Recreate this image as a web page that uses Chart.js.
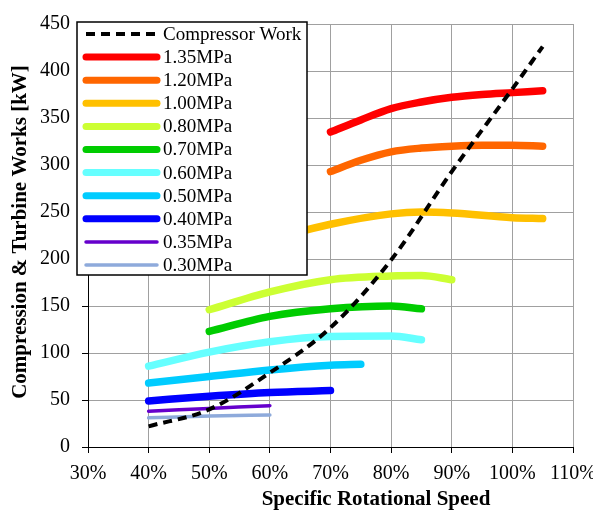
<!DOCTYPE html>
<html>
<head>
<meta charset="utf-8">
<title>Compression & Turbine Works</title>
<script src="https://cdn.jsdelivr.net/npm/chart.js@4/dist/chart.umd.min.js"></script>
<style>
  body { margin: 0; background: #fff; }
  #work-chart { display: block; }
</style>
</head>
<body>
<canvas id="work-chart" width="593" height="513"></canvas>
<script>
const serif = '"Liberation Serif", "Times New Roman", serif';

// compressor work curve
const compSpeed = [40, 50, 60, 70, 80, 90, 100, 105];
const compWork = [22, 40, 79, 127, 199, 293, 381, 426];

// turbine work, one curve per inlet pressure
const p135Speed = [70, 75, 80, 85, 90, 95, 100, 105];
const p135Work = [335, 348, 360, 367, 372, 375, 377, 379];
const p120Speed = [70, 75, 80, 85, 90, 95, 100, 105];
const p120Work = [293, 305, 314, 318, 320, 321, 321, 320];
const p100Speed = [50, 60, 70, 80, 85, 90, 100, 105];
const p100Work = [205, 221, 237, 248, 250, 249, 244, 243];
const p080Speed = [50, 60, 70, 80, 85, 90];
const p080Work = [146, 165, 178, 182, 182.5, 178];
const p070Speed = [50, 60, 70, 80, 85];
const p070Work = [123, 139, 147, 150, 147];
const p060Speed = [40, 50, 60, 70, 80, 85];
const p060Work = [86, 101, 112, 117.5, 118, 114];
const p050Speed = [40, 50, 60, 70, 75];
const p050Work = [68, 75, 82, 87, 88];
const p040Speed = [40, 50, 60, 70];
const p040Work = [49, 54, 58, 60];
const p035Speed = [40, 50, 60];
const p035Work = [38, 41, 44];
const p030Speed = [40, 50, 60];
const p030Work = [31, 33, 34];

const xTicks = [30, 40, 50, 60, 70, 80, 90, 100, 110];
const yTicks = [0, 50, 100, 150, 200, 250, 300, 350, 400, 450];

function toPoints(xs, ys) {
  return xs.map((x, i) => ({ x: x, y: ys[i] }));
}

function series(label, xs, ys, color, width) {
  return {
    label: label,
    data: toPoints(xs, ys),
    borderColor: color,
    backgroundColor: color,
    borderWidth: width,
    borderCapStyle: 'round',
    borderJoinStyle: 'round',
    pointRadius: 0,
    cubicInterpolationMode: 'monotone',
    fill: false
  };
}

const compressor = series('Compressor Work', compSpeed, compWork, '#000000', 4);
compressor.borderDash = [9, 6];
compressor.borderCapStyle = 'butt';

const datasets = [
  compressor,
  series('1.35MPa', p135Speed, p135Work, '#ff0000', 7.5),
  series('1.20MPa', p120Speed, p120Work, '#ff6600', 7.5),
  series('1.00MPa', p100Speed, p100Work, '#ffc000', 7.5),
  series('0.80MPa', p080Speed, p080Work, '#ccff33', 7.5),
  series('0.70MPa', p070Speed, p070Work, '#00cc00', 7.5),
  series('0.60MPa', p060Speed, p060Work, '#66ffff', 7.5),
  series('0.50MPa', p050Speed, p050Work, '#00ccff', 7.5),
  series('0.40MPa', p040Speed, p040Work, '#0000ff', 7.5),
  series('0.35MPa', p035Speed, p035Work, '#6600cc', 3.5),
  series('0.30MPa', p030Speed, p030Work, '#8eaadb', 3.5)
];

// legend box sitting inside the plot, drawn over the curves
const boxLegend = {
  id: 'boxLegend',
  afterDatasetsDraw(chart) {
    const ctx = chart.ctx;
    const left = 77, top = 22, w = 230, h = 253;
    ctx.save();
    ctx.fillStyle = '#fff';
    ctx.fillRect(left, top, w, h);
    ctx.strokeStyle = '#000';
    ctx.lineWidth = 1.5;
    ctx.strokeRect(left, top, w, h);
    ctx.font = '19px ' + serif;
    ctx.textBaseline = 'middle';
    ctx.textAlign = 'left';
    chart.data.datasets.forEach((ds, i) => {
      const y = top + 12 + i * 23.1;
      ctx.beginPath();
      ctx.strokeStyle = ds.borderColor;
      ctx.lineWidth = Math.min(ds.borderWidth, 7);
      ctx.lineCap = ds.borderDash ? 'butt' : 'round';
      ctx.setLineDash(ds.borderDash || []);
      ctx.moveTo(86, y);
      ctx.lineTo(157, y);
      ctx.stroke();
      ctx.setLineDash([]);
      ctx.fillStyle = '#000';
      ctx.fillText(ds.label, 163, y + 1);
    });
    ctx.restore();
  }
};

// bold axis titles
const axisTitles = {
  id: 'axisTitles',
  afterDraw(chart) {
    const ctx = chart.ctx;
    ctx.save();
    ctx.fillStyle = '#000';
    ctx.font = 'bold 21px ' + serif;
    ctx.textAlign = 'center';
    ctx.textBaseline = 'middle';
    ctx.fillText('Specific Rotational Speed', 376, 500);
    ctx.translate(21, 232);
    ctx.rotate(-Math.PI / 2);
    ctx.fillText('Compression & Turbine Works [kW]', 0, 0);
    ctx.restore();
  }
};

Chart.defaults.font.family = serif;
Chart.defaults.font.size = 20;
Chart.defaults.color = '#000';

new Chart(document.getElementById('work-chart'), {
  type: 'line',
  data: { datasets: datasets },
  options: {
    responsive: false,
    animation: false,
    devicePixelRatio: 1,
    layout: { padding: { top: 17, right: 20, bottom: 0, left: 0 } },
    plugins: {
      legend: { display: false },
      tooltip: { enabled: false }
    },
    scales: {
      x: {
        type: 'linear',
        min: 30,
        max: 110,
        afterBuildTicks: (scale) => { scale.ticks = xTicks.map(v => ({ value: v })); },
        afterFit: (scale) => { scale.height = 66; scale.paddingLeft = 0; scale.paddingRight = 0; },
        ticks: { padding: 9, maxRotation: 0, callback: (v) => v + '%' },
        grid: { color: '#a0a0a0', tickColor: '#000', tickLength: 6 },
        border: { color: '#000', width: 1 }
      },
      y: {
        min: 0,
        max: 450,
        afterBuildTicks: (scale) => { scale.ticks = yTicks.map(v => ({ value: v })); },
        afterFit: (scale) => { scale.width = 88; },
        ticks: { padding: 12 },
        grid: { color: '#a0a0a0', tickColor: '#000', tickLength: 6 },
        border: { color: '#000', width: 1 }
      }
    }
  },
  plugins: [boxLegend, axisTitles]
});
</script>
</body>
</html>
